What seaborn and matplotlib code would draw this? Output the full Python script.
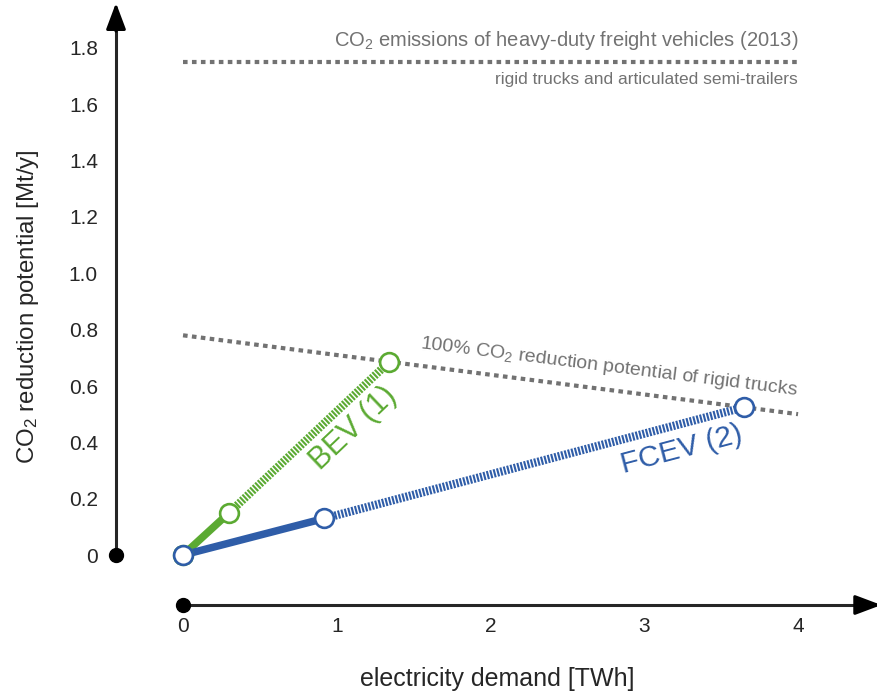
import matplotlib
matplotlib.use('Agg')
import matplotlib.pyplot as plt
import seaborn as sns
import pandas as pd

# data
bev_x = [0, 0.3, 1.34]
bev_y = [0, 0.15, 0.685]
fcev_x = [0, 0.92, 3.65]
fcev_y = [0, 0.13, 0.525]
potential_x = [0, 4]
potential_y = [0.78, 0.50]
emission_x = [0, 4]
emission_y = [1.75, 1.75]
x_ticks = [0, 1, 2, 3, 4]
y_ticks = [0, 0.2, 0.4, 0.6, 0.8, 1.0, 1.2, 1.4, 1.6, 1.8]
y_ticklabels = ['0', '0.2', '0.4', '0.6', '0.8', '1.0', '1.2', '1.4', '1.6', '1.8']

sns.set_style('white')
plt.rcParams['font.family'] = ['Liberation Sans', 'DejaVu Sans']
plt.rcParams['mathtext.fontset'] = 'custom'
plt.rcParams['mathtext.rm'] = 'Liberation Sans'
plt.rcParams['mathtext.it'] = 'Liberation Sans:italic'

green = '#5BAA32'
blue = '#2F5DA8'
grey = '#727272'

fig = plt.figure(figsize=(8.78, 6.91), dpi=100)
ax = fig.add_axes([116 / 878, 86 / 691, 1 - 116 / 878, 1 - 86 / 691 - 8 / 691])
ax.set_xlim(-0.436, 4.52)
ax.set_ylim(-0.1775, 1.942)

df_bev = pd.DataFrame({'x': bev_x, 'y': bev_y})
df_fcev = pd.DataFrame({'x': fcev_x, 'y': fcev_y})

# grey reference lines
for xs, ys in [(potential_x, potential_y), (emission_x, emission_y)]:
    l = sns.lineplot(x=xs, y=ys, ax=ax, color=grey, lw=3, estimator=None, sort=False)
    ln = l.lines[-1]
    ln.set_dashes((1.1, 1.05))
    ln.set_dash_capstyle('butt')

# vehicle lines: solid first segment, hatched second segment
for d, c in [(df_bev, green), (df_fcev, blue)]:
    sns.lineplot(data=d.iloc[:2], x='x', y='y', ax=ax, color=c, lw=5.4,
                 estimator=None, sort=False, solid_capstyle='butt')
    sns.lineplot(data=d.iloc[1:], x='x', y='y', ax=ax, color=c, lw=6,
                 estimator=None, sort=False)
    ln = ax.lines[-1]
    ln.set_dashes((0.25, 0.17))
    ln.set_dash_capstyle('butt')
    ax.plot(d['x'], d['y'], 'o', ms=13.5, mfc='white', mec=c, mew=1.9, zorder=5, clip_on=False)

# labels on lines
ax.text(1.11, 0.45, 'BEV (1)', color=green, fontsize=22, rotation=43.5,
        ha='center', va='center', rotation_mode='anchor')
ax.text(3.24, 0.373, 'FCEV (2)', color=blue, fontsize=21.5, rotation=14.8,
        ha='center', va='center', rotation_mode='anchor')
ax.text(2.77, 0.668, r'100% CO$_\mathregular{2}$ reduction potential of rigid trucks',
        color=grey, fontsize=14, rotation=-7.1, ha='center', va='center',
        rotation_mode='anchor')
ax.text(4.0, 1.785, r'CO$_\mathregular{2}$ emissions of heavy-duty freight vehicles (2013)',
        color=grey, fontsize=14.5, ha='right', va='bottom')
ax.text(4.0, 1.715, 'rigid trucks and articulated semi-trailers',
        color=grey, fontsize=12.5, ha='right', va='top')

# axes styling
for s in ['top', 'right']:
    ax.spines[s].set_visible(False)
ax.spines['left'].set_linewidth(2.2)
ax.spines['bottom'].set_linewidth(2.2)
ax.spines['left'].set_bounds(0, 1.90)
ax.spines['bottom'].set_bounds(0, 4.48)
ax.annotate('', xy=(-0.436, 1.97), xytext=(-0.436, 1.85), xycoords='data',
            arrowprops=dict(arrowstyle='-|>,head_length=0.8,head_width=0.3',
                            color='black', lw=2.2, mutation_scale=20),
            annotation_clip=False)
ax.annotate('', xy=(4.56, -0.1775), xytext=(4.40, -0.1775), xycoords='data',
            arrowprops=dict(arrowstyle='-|>,head_length=0.8,head_width=0.3',
                            color='black', lw=2.2, mutation_scale=20),
            annotation_clip=False)
ax.plot([-0.436], [0], 'o', color='black', ms=10, clip_on=False, zorder=6)
ax.plot([0], [-0.1775], 'o', color='black', ms=10, clip_on=False, zorder=6)

ax.set_xticks(x_ticks)
ax.set_xticklabels([str(v) for v in x_ticks])
ax.set_yticks(y_ticks)
ax.set_yticklabels(y_ticklabels)
ax.tick_params(axis='both', direction='in', length=5, width=1.2, labelsize=15)
ax.tick_params(axis='y', pad=13)
ax.tick_params(axis='x', pad=9)
ax.set_xlabel('electricity demand [TWh]', fontsize=18, labelpad=22)
ax.set_ylabel(r'CO$_\mathregular{2}$ reduction potential [Mt/y]', fontsize=17.3, labelpad=20)

fig.savefig('out.png', dpi=100)
